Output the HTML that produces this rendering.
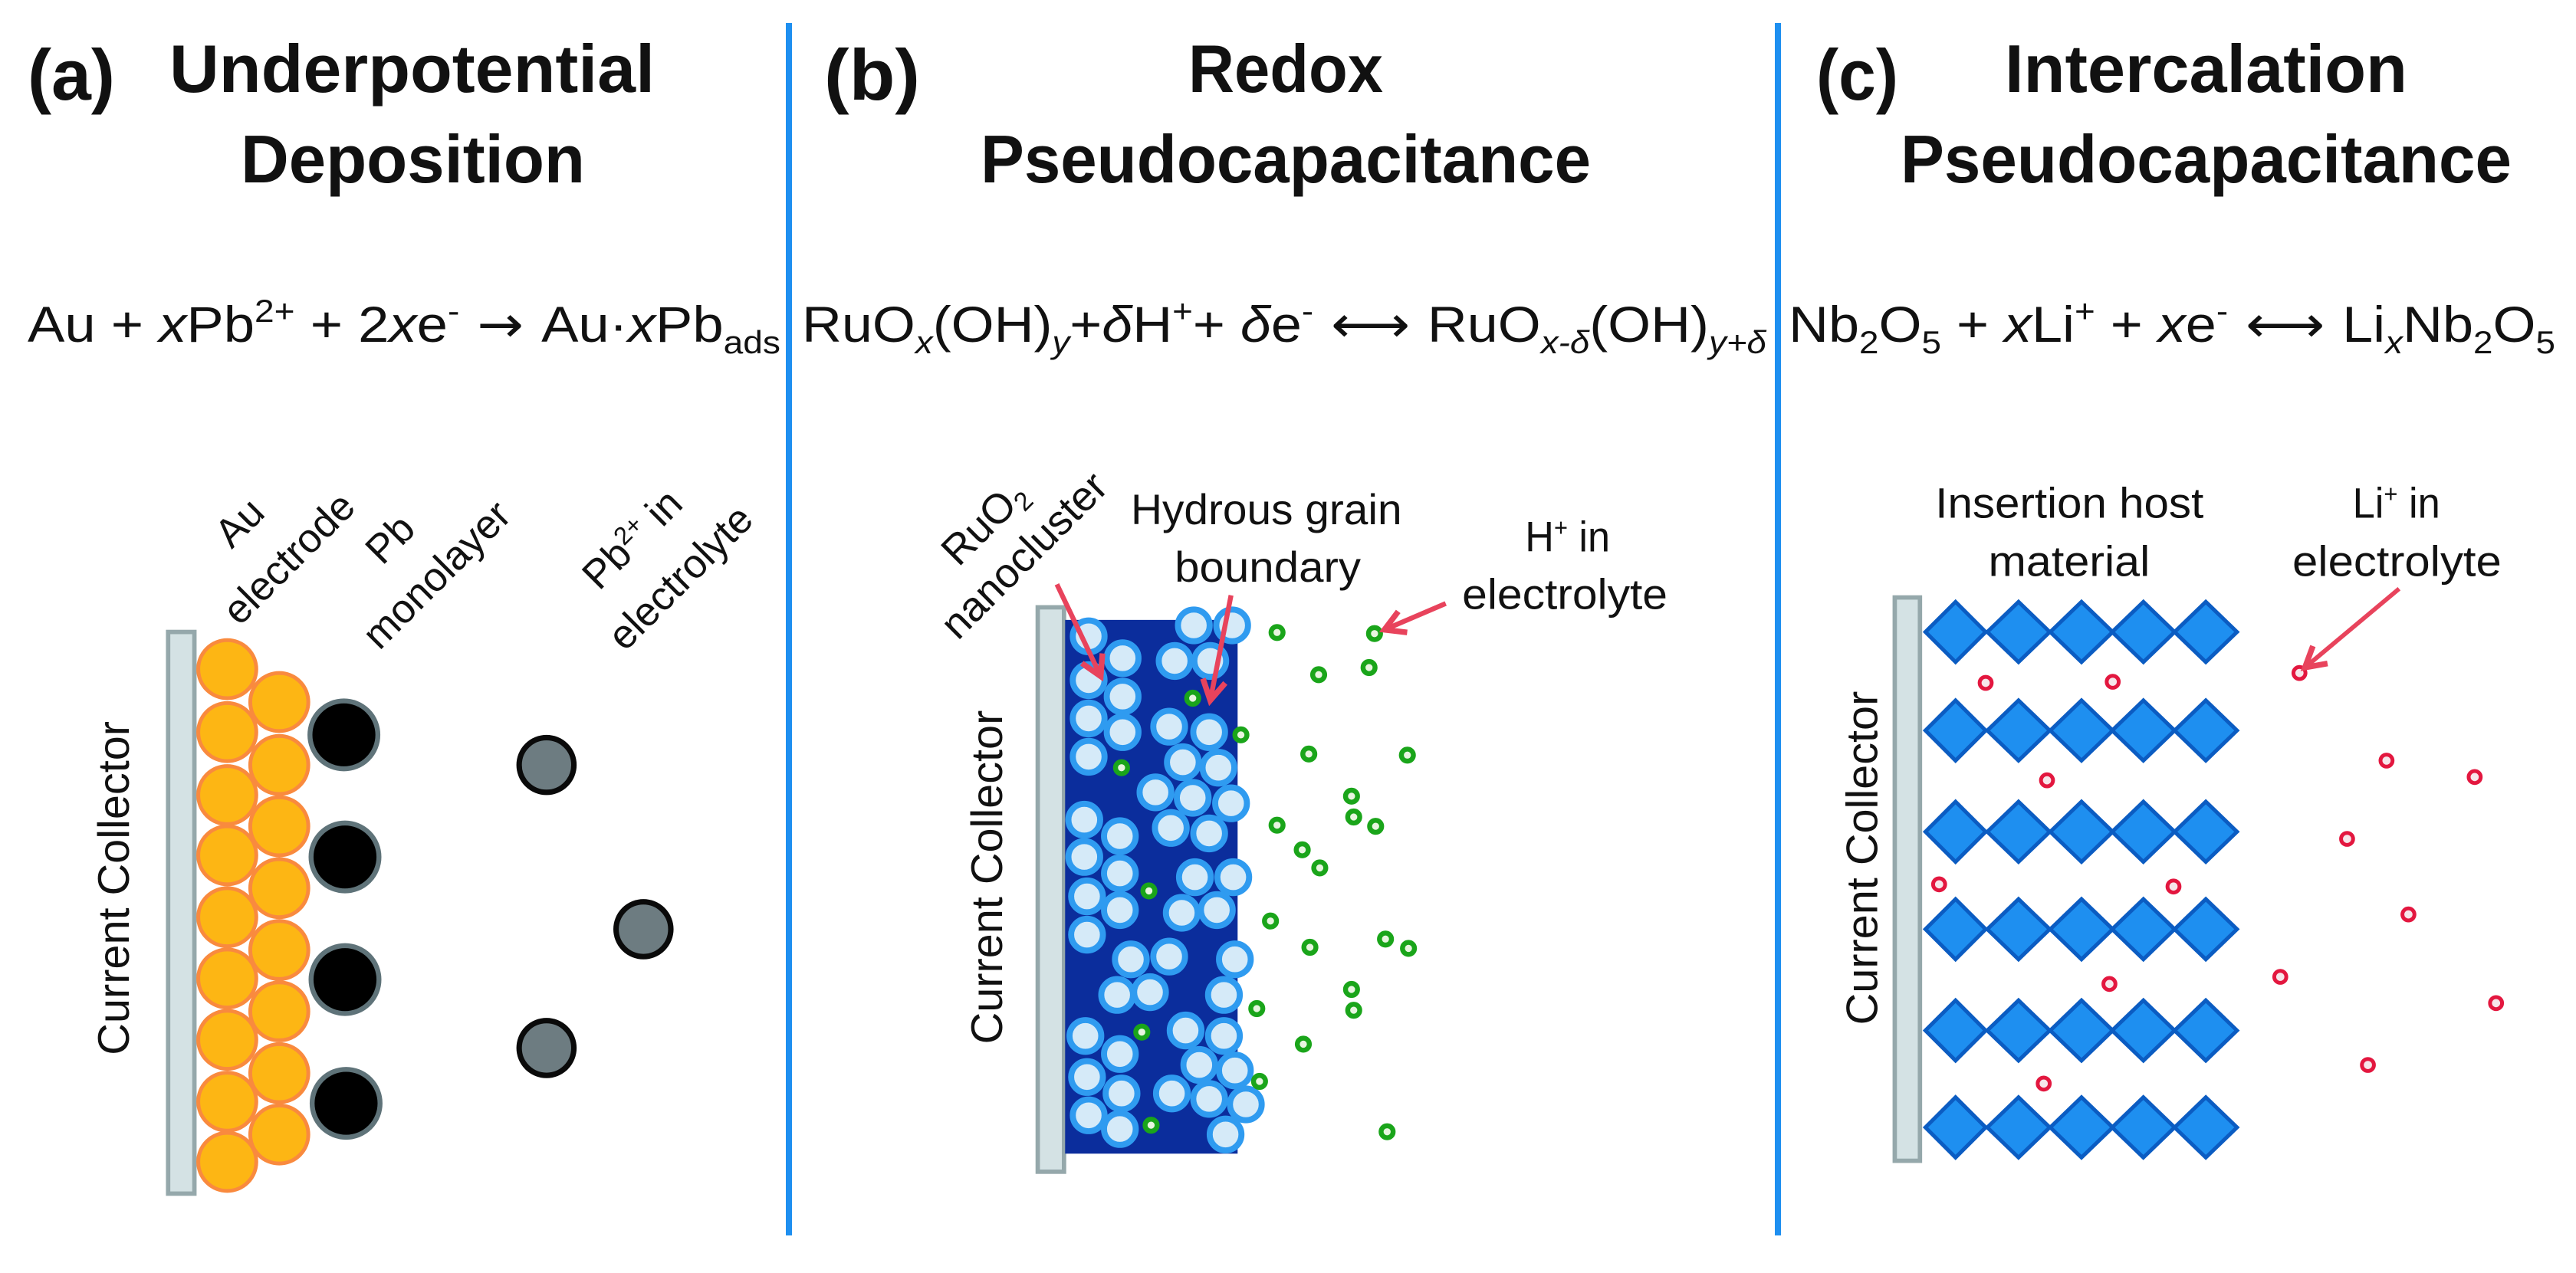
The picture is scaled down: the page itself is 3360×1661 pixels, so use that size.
<!DOCTYPE html>
<html><head><meta charset="utf-8"><style>
html,body{margin:0;padding:0;background:#fff;}
svg{display:block;}
text{font-family:"Liberation Sans",sans-serif;fill:#111;}
</style></head><body>
<svg width="3360" height="1661" viewBox="0 0 3360 1661" xmlns="http://www.w3.org/2000/svg">
<defs>
<marker id="ah" viewBox="0 0 10 10" refX="8" refY="5" markerWidth="52" markerHeight="52" markerUnits="userSpaceOnUse" orient="auto">
<path d="M1,1 L8,5 L1,9" fill="none" stroke="#e8435c" stroke-width="2" stroke-linejoin="miter"/>
</marker>
</defs>
<rect width="3360" height="1661" fill="#fff"/>
<line x1="1029" y1="30" x2="1029" y2="1612" stroke="#1e8ff0" stroke-width="8"/>
<line x1="2319" y1="30" x2="2319" y2="1612" stroke="#1e8ff0" stroke-width="8"/>

<g font-weight="bold" font-size="88">
<text x="36" y="130" font-size="94" textLength="114" lengthAdjust="spacingAndGlyphs">(a)</text>
<text x="221" y="120" textLength="633" lengthAdjust="spacingAndGlyphs">Underpotential</text>
<text x="314" y="238" textLength="449" lengthAdjust="spacingAndGlyphs">Deposition</text>
<text x="1075" y="130" font-size="94" textLength="125" lengthAdjust="spacingAndGlyphs">(b)</text>
<text x="1550" y="120" textLength="254" lengthAdjust="spacingAndGlyphs">Redox</text>
<text x="1279" y="238" textLength="796" lengthAdjust="spacingAndGlyphs">Pseudocapacitance</text>
<text x="2369" y="130" font-size="94" textLength="107" lengthAdjust="spacingAndGlyphs">(c)</text>
<text x="2615" y="120" textLength="525" lengthAdjust="spacingAndGlyphs">Intercalation</text>
<text x="2479" y="238" textLength="797" lengthAdjust="spacingAndGlyphs">Pseudocapacitance</text>
</g>

<g font-size="66">
<text x="36" y="446" textLength="982" lengthAdjust="spacingAndGlyphs">Au + <tspan font-style="italic">x</tspan>Pb<tspan font-size="42" dy="-26">2+</tspan><tspan dy="26"> + 2</tspan><tspan font-style="italic">x</tspan>e<tspan font-size="42" dy="-26">-</tspan><tspan dy="26" font-family="DejaVu Sans"> → </tspan>Au·<tspan font-style="italic">x</tspan>Pb<tspan font-size="42" dy="15">ads</tspan></text>
<text x="1046" y="446" textLength="1258" lengthAdjust="spacingAndGlyphs">RuO<tspan font-size="42" dy="15" font-style="italic">x</tspan><tspan dy="-15">(OH)</tspan><tspan font-size="42" dy="15" font-style="italic">y</tspan><tspan dy="-15">+</tspan><tspan font-style="italic">δ</tspan>H<tspan font-size="42" dy="-26">+</tspan><tspan dy="26">+ </tspan><tspan font-style="italic">δ</tspan>e<tspan font-size="42" dy="-26">-</tspan><tspan dy="26" font-family="DejaVu Sans"> ⟷ </tspan>RuO<tspan font-size="42" dy="15" font-style="italic">x-δ</tspan><tspan dy="-15">(OH)</tspan><tspan font-size="42" dy="15" font-style="italic">y+δ</tspan></text>
<text x="2333" y="446" textLength="1000" lengthAdjust="spacingAndGlyphs">Nb<tspan font-size="42" dy="15">2</tspan><tspan dy="-15">O</tspan><tspan font-size="42" dy="15">5</tspan><tspan dy="-15"> + </tspan><tspan font-style="italic">x</tspan>Li<tspan font-size="42" dy="-26">+</tspan><tspan dy="26"> + </tspan><tspan font-style="italic">x</tspan>e<tspan font-size="42" dy="-26">-</tspan><tspan dy="26" font-family="DejaVu Sans"> ⟷ </tspan>Li<tspan font-size="42" dy="15" font-style="italic">x</tspan><tspan dy="-15">Nb</tspan><tspan font-size="42" dy="15">2</tspan><tspan dy="-15">O</tspan><tspan font-size="42" dy="15">5</tspan></text>
</g>

<!-- PANEL A -->
<g transform="translate(0,541) scale(0.7142857)">
<rect x="307" y="397" width="48" height="1026" fill="#d4e2e4" stroke="#95a8ab" stroke-width="8"/>
<g fill="#fdb614" stroke="#f98a3e" stroke-width="7">
<circle cx="415" cy="465" r="53"/><circle cx="415" cy="580" r="53"/><circle cx="415" cy="695" r="53"/><circle cx="415" cy="805" r="53"/><circle cx="415" cy="918" r="53"/><circle cx="415" cy="1030" r="53"/><circle cx="415" cy="1142" r="53"/><circle cx="415" cy="1255" r="53"/><circle cx="415" cy="1365" r="53"/>
<circle cx="510" cy="525" r="53"/><circle cx="510" cy="640" r="53"/><circle cx="510" cy="752" r="53"/><circle cx="510" cy="865" r="53"/><circle cx="510" cy="978" r="53"/><circle cx="510" cy="1090" r="53"/><circle cx="510" cy="1203" r="53"/><circle cx="510" cy="1315" r="53"/>
</g>
<g fill="#000" stroke="#5f7379" stroke-width="9">
<circle cx="628" cy="585" r="62"/><circle cx="630" cy="808" r="62"/><circle cx="630" cy="1032" r="62"/><circle cx="632" cy="1258" r="62"/>
</g>
<g fill="#6d7c81" stroke="#0a0a0a" stroke-width="10">
<circle cx="998" cy="640" r="50"/><circle cx="1175" cy="940" r="50"/><circle cx="998" cy="1157" r="50"/>
</g>
<text transform="translate(235,865) rotate(-90)" text-anchor="middle" font-size="80" textLength="610" lengthAdjust="spacingAndGlyphs">Current Collector</text>
<g font-size="74" text-anchor="middle">
<text transform="translate(455,215) rotate(-45)">Au</text>
<text transform="translate(545,280) rotate(-45)">electrode</text>
<text transform="translate(730,245) rotate(-45)">Pb</text>
<text transform="translate(815,310) rotate(-45)">monolayer</text>
<text transform="translate(1172,245) rotate(-45)">Pb<tspan font-size="46" dy="-26">2+</tspan><tspan dy="26"> in</tspan></text>
<text transform="translate(1260,315) rotate(-45)">electrolyte</text>
</g>
</g>

<!-- PANEL B -->
<g transform="translate(1000,541) scale(0.7142857)">
<rect x="495" y="352" width="48" height="1031" fill="#d4e2e4" stroke="#95a8ab" stroke-width="8"/>
<rect x="545" y="375" width="315" height="975" fill="#0b2d9c"/>
<g fill="#d5eaf8" stroke="#2f9bf0" stroke-width="11">
<circle cx="588" cy="405" r="29"/><circle cx="650" cy="445" r="29"/><circle cx="588" cy="485" r="29"/><circle cx="650" cy="515" r="29"/><circle cx="588" cy="555" r="29"/><circle cx="650" cy="580" r="29"/><circle cx="588" cy="625" r="29"/>
<circle cx="780" cy="385" r="29"/><circle cx="850" cy="385" r="29"/><circle cx="745" cy="450" r="29"/><circle cx="810" cy="450" r="29"/>
<circle cx="735" cy="570" r="29"/><circle cx="808" cy="580" r="29"/><circle cx="760" cy="635" r="29"/><circle cx="825" cy="645" r="29"/><circle cx="710" cy="690" r="29"/><circle cx="778" cy="700" r="29"/><circle cx="848" cy="710" r="29"/><circle cx="738" cy="755" r="29"/><circle cx="808" cy="765" r="29"/>
<circle cx="580" cy="740" r="29"/><circle cx="645" cy="770" r="29"/><circle cx="580" cy="808" r="29"/><circle cx="645" cy="838" r="29"/><circle cx="585" cy="880" r="29"/><circle cx="645" cy="905" r="29"/><circle cx="585" cy="950" r="29"/>
<circle cx="782" cy="845" r="29"/><circle cx="852" cy="845" r="29"/><circle cx="758" cy="910" r="29"/><circle cx="822" cy="905" r="29"/>
<circle cx="665" cy="995" r="29"/><circle cx="735" cy="990" r="29"/><circle cx="855" cy="995" r="29"/><circle cx="640" cy="1060" r="29"/><circle cx="700" cy="1055" r="29"/><circle cx="835" cy="1060" r="29"/>
<circle cx="582" cy="1135" r="29"/><circle cx="645" cy="1168" r="29"/><circle cx="585" cy="1210" r="29"/><circle cx="648" cy="1240" r="29"/><circle cx="588" cy="1280" r="29"/><circle cx="645" cy="1305" r="29"/>
<circle cx="765" cy="1125" r="29"/><circle cx="835" cy="1135" r="29"/><circle cx="790" cy="1188" r="29"/><circle cx="855" cy="1198" r="29"/><circle cx="740" cy="1240" r="29"/><circle cx="808" cy="1250" r="29"/><circle cx="875" cy="1260" r="29"/><circle cx="838" cy="1315" r="29"/>
</g>
<g fill="#e8f5e0" stroke="#1aa51a" stroke-width="9">
<circle cx="932" cy="398" r="11"/><circle cx="1110" cy="400" r="11"/><circle cx="1008" cy="475" r="11"/><circle cx="1100" cy="462" r="11"/><circle cx="778" cy="518" r="11"/><circle cx="866" cy="585" r="11"/><circle cx="990" cy="620" r="11"/><circle cx="1170" cy="622" r="11"/><circle cx="648" cy="645" r="11"/><circle cx="1068" cy="697" r="11"/><circle cx="1072" cy="735" r="11"/><circle cx="1112" cy="752" r="11"/><circle cx="932" cy="750" r="11"/><circle cx="978" cy="795" r="11"/><circle cx="1010" cy="828" r="11"/><circle cx="698" cy="870" r="11"/><circle cx="920" cy="925" r="11"/><circle cx="992" cy="973" r="11"/><circle cx="1130" cy="958" r="11"/><circle cx="1172" cy="975" r="11"/><circle cx="1068" cy="1050" r="11"/><circle cx="1072" cy="1088" r="11"/><circle cx="895" cy="1085" r="11"/><circle cx="685" cy="1128" r="11"/><circle cx="980" cy="1150" r="11"/><circle cx="900" cy="1218" r="11"/><circle cx="702" cy="1298" r="11"/><circle cx="1133" cy="1310" r="11"/>
</g>
<g stroke="#e8435c" stroke-width="9" fill="none" marker-end="url(#ah)">
<line x1="530" y1="310" x2="610" y2="478"/>
<line x1="848" y1="330" x2="810" y2="522"/>
<line x1="1240" y1="345" x2="1128" y2="393"/>
</g>
<text transform="translate(430,845) rotate(-90)" text-anchor="middle" font-size="80" textLength="610" lengthAdjust="spacingAndGlyphs">Current Collector</text>
<g font-size="76" text-anchor="middle">
<text transform="translate(415,215) rotate(-45)">RuO<tspan font-size="48" dy="14">2</tspan></text>
<text transform="translate(488,275) rotate(-45)">nanocluster</text>
</g>
<g font-size="78">
<text x="665" y="200" textLength="495" lengthAdjust="spacingAndGlyphs">Hydrous grain</text>
<text x="745" y="305" textLength="340" lengthAdjust="spacingAndGlyphs">boundary</text>
<text x="1385" y="250" textLength="155" lengthAdjust="spacingAndGlyphs">H<tspan font-size="46" dy="-28">+</tspan><tspan dy="28"> in</tspan></text>
<text x="1270" y="355" textLength="375" lengthAdjust="spacingAndGlyphs">electrolyte</text>
</g>
</g>

<!-- PANEL C -->
<g transform="translate(2240,541) scale(0.7142857)">
<rect x="324" y="334" width="46" height="1029" fill="#d4e2e4" stroke="#95a8ab" stroke-width="8"/>
<g fill="#1e8ff0" stroke="#0b5cc2" stroke-width="7" stroke-linejoin="miter">
<path id="drow" d="M380,397 L435,342 L490,397 L435,452 Z M493,397 L550,342 L607,397 L550,452 Z M608,397 L665,342 L722,397 L665,452 Z M721,397 L778,342 L835,397 L778,452 Z M835,397 L892,342 L949,397 L892,452 Z"/>
<use href="#drow" y="180"/><use href="#drow" y="365"/><use href="#drow" y="543"/><use href="#drow" y="728"/><use href="#drow" y="905"/>
</g>
<g fill="#f6e6ea" stroke="#e3173f" stroke-width="7">
<circle cx="490" cy="490" r="11"/><circle cx="722" cy="488" r="11"/><circle cx="1063" cy="472" r="11"/><circle cx="602" cy="668" r="11"/><circle cx="1222" cy="632" r="11"/><circle cx="1383" cy="662" r="11"/><circle cx="1150" cy="775" r="11"/><circle cx="405" cy="858" r="11"/><circle cx="833" cy="862" r="11"/><circle cx="1262" cy="913" r="11"/><circle cx="1028" cy="1027" r="11"/><circle cx="716" cy="1040" r="11"/><circle cx="1422" cy="1075" r="11"/><circle cx="1188" cy="1188" r="11"/><circle cx="596" cy="1222" r="11"/>
</g>
<line x1="1245" y1="318" x2="1073" y2="462" stroke="#e8435c" stroke-width="8" marker-end="url(#ah)"/>
<text transform="translate(292,810) rotate(-90)" text-anchor="middle" font-size="80" textLength="610" lengthAdjust="spacingAndGlyphs">Current Collector</text>
<g font-size="78">
<text x="398" y="188" textLength="490" lengthAdjust="spacingAndGlyphs">Insertion host</text>
<text x="495" y="295" textLength="295" lengthAdjust="spacingAndGlyphs">material</text>
<text x="1160" y="188" textLength="160" lengthAdjust="spacingAndGlyphs">Li<tspan font-size="46" dy="-28">+</tspan><tspan dy="28"> in</tspan></text>
<text x="1050" y="295" textLength="382" lengthAdjust="spacingAndGlyphs">electrolyte</text>
</g>
</g>
</svg>
</body></html>
